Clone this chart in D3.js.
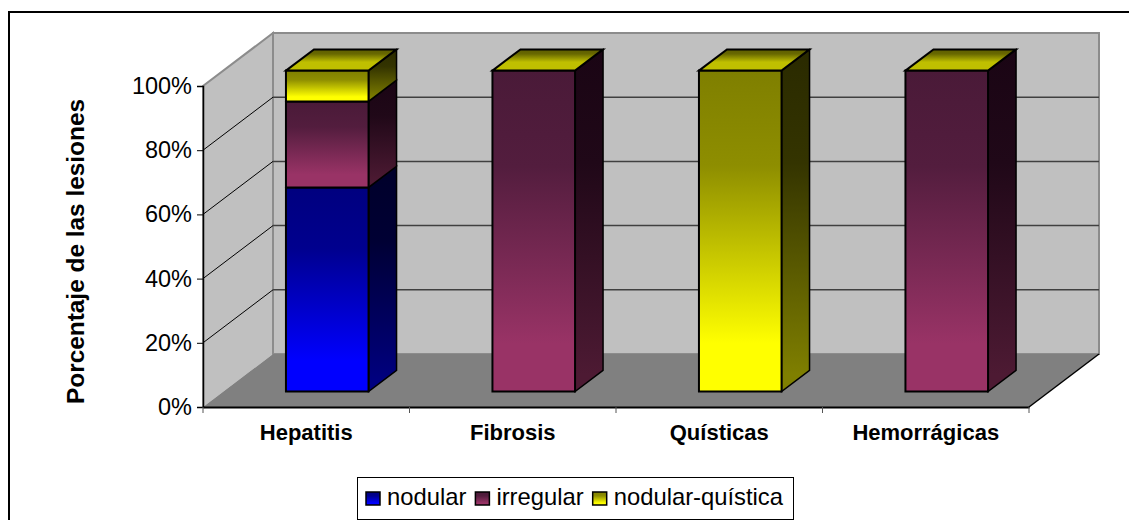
<!DOCTYPE html>
<html>
<head>
<meta charset="utf-8">
<script src="https://cdnjs.cloudflare.com/ajax/libs/d3/7.8.5/d3.min.js"></script>
<style>
    body { margin: 0; background: #fff; }
    svg { display: block; }
    text { font-family: "Liberation Sans", Arial, sans-serif; fill: #000; }
</style>
</head>
<body>
<div id="chart"></div>
<script>
var categories = ["Hepatitis", "Fibrosis", "Quísticas", "Hemorrágicas"];
var seriesNames = ["nodular", "irregular", "nodular-quística"];
var nodular = [63.6, 0, 0, 0];
var irregular = [26.8, 100, 0, 100];
var nodularQuistica = [9.6, 0, 100, 0];
var yTicks = [0, 20, 40, 60, 80, 100];
var yTitle = "Porcentaje de las lesiones";

var width = 1129, height = 520;
var depth = {x: 70, y: -53};
var colors = [
    {front: ["#00007f", "#0000ff"], side: ["#00002a", "#00007f"]},
    {front: ["#4a1a38", "#993366"], side: ["#1a0514", "#4d1a33"]},
    {front: ["#7f7f00", "#ffff00"], side: ["#2a2a00", "#7f7f00"]}
];

var svg = d3.select("#chart").append("svg")
    .attr("width", width)
    .attr("height", height);
var defs = svg.append("defs");

var x = d3.scaleBand().domain(categories).range([203, 1029]).paddingInner(0.6).paddingOuter(0.3);
var y = d3.scaleLinear().domain([0, 100]).range([407, 86]);

function pt(px, val, z) {
    return [px + z * depth.x, y(val) + z * depth.y];
}
function poly(points) {
    return d3.line()(points) + "Z";
}

// dark start stays flat for a while, then ramps up to the full colour
function gradient(id, c0, c1, stop) {
    var g = defs.append("linearGradient").attr("id", id)
        .attr("x1", 0).attr("y1", 0).attr("x2", 0).attr("y2", 1);
    g.append("stop").attr("offset", 0).attr("stop-color", c0);
    g.append("stop").attr("offset", stop * 0.35).attr("stop-color", d3.interpolateRgb(c0, c1)(0.12));
    g.append("stop").attr("offset", stop).attr("stop-color", c1);
}
colors.forEach(function(c, i) {
    gradient("front" + i, c.front[0], c.front[1], 0.85);
    gradient("side" + i, c.side[0], c.side[1], 0.95);
});
gradient("topface", "#5c5c00", "#bfbf00", 0.6);

// outer frame, open on the right and bottom
svg.append("path")
    .attr("d", d3.line()([[9, height], [9, 12], [width, 12]]))
    .attr("fill", "none").attr("stroke", "#000").attr("stroke-width", 2);

var x0 = x.range()[0], x1 = x.range()[1];
var floor = svg.append("g");

// walls and floor
floor.append("path")
    .attr("d", poly([pt(x0, 100, 1), pt(x1, 100, 1), pt(x1, 0, 1), pt(x0, 0, 1)]))
    .attr("fill", "#c0c0c0").attr("stroke", "#8c8c8c").attr("stroke-width", 2);
floor.append("path")
    .attr("d", poly([pt(x0, 100, 0), pt(x0, 100, 1), pt(x0, 0, 1), pt(x0, 0, 0)]))
    .attr("fill", "#c0c0c0");
floor.append("path")
    .attr("d", poly([pt(x0, 0, 0), pt(x0, 0, 1), pt(x1, 0, 1), pt(x1, 0, 0)]))
    .attr("fill", "#808080");
floor.append("path")
    .attr("d", d3.line()([pt(x0, 0, 0), pt(x0, 100, 0), pt(x0, 100, 1), pt(x0, 0, 1)]))
    .attr("fill", "none").attr("stroke", "#8c8c8c").attr("stroke-width", 2);

// gridlines
var grid = svg.append("g");
yTicks.filter(function(d) { return d > 0 && d < 100; }).forEach(function(d) {
    grid.append("path")
        .attr("d", d3.line()([pt(x0, d, 0), pt(x0, d, 1)]))
        .attr("fill", "none").attr("stroke", "#000");
    grid.append("path")
        .attr("d", d3.line()([pt(x0, d, 1), pt(x1, d, 1)]))
        .attr("fill", "none").attr("stroke", "#404040").attr("stroke-width", 1.5);
});

// axes
var yAxis = d3.axisLeft(y).tickValues(yTicks).tickSize(6).tickPadding(5)
    .tickFormat(function(d) { return d + "%"; });
var yG = svg.append("g").attr("transform", "translate(" + x0 + ",0)").call(yAxis);
yG.selectAll("text").style("font-size", "23.5px");
yG.selectAll(".domain").attr("stroke", "#000").attr("stroke-width", 1.5);

var xAxis = d3.axisBottom(x).tickSize(0).tickPadding(17);
var xG = svg.append("g").attr("transform", "translate(0," + y(0) + ")").call(xAxis);
xG.selectAll("text").style("font-size", "22px").style("font-weight", "bold");
xG.select(".domain").attr("stroke", "#000").attr("stroke-width", 2);
xG.selectAll(".sep").data(d3.range(categories.length + 1)).enter().append("line")
    .attr("class", "sep")
    .attr("x1", function(d) { return x0 + d * x.step(); })
    .attr("x2", function(d) { return x0 + d * x.step(); })
    .attr("y1", 0).attr("y2", 6)
    .attr("stroke", "#555");

svg.append("path")
    .attr("d", d3.line()([pt(x1, 0, 0), pt(x1, 0, 1)]))
    .attr("fill", "none").attr("stroke", "#000").attr("stroke-width", 1.5);

// stacked 3d bars
var rows = categories.map(function(c, i) {
    return {category: c, 0: nodular[i], 1: irregular[i], 2: nodularQuistica[i]};
});
var stack = d3.stack().keys([0, 1, 2])(rows);
var zFront = 0.3, zBack = 0.7;
var bars = svg.append("g").attr("transform", "translate(0,0.5)");

categories.forEach(function(c, i) {
    var l = x(c), r = l + x.bandwidth();
    stack.forEach(function(layer, s) {
        var v0 = layer[i][0], v1 = layer[i][1];
        if (v1 > v0) {
            bars.append("path")
                .attr("d", poly([pt(r, v1, zFront), pt(r, v1, zBack), pt(r, v0, zBack), pt(r, v0, zFront)]))
                .attr("fill", "url(#side" + s + ")")
                .attr("stroke", "#000").attr("stroke-width", 1.5);
            bars.append("path")
                .attr("d", poly([pt(l, v1, zFront), pt(r, v1, zFront), pt(r, v0, zFront), pt(l, v0, zFront)]))
                .attr("fill", "url(#front" + s + ")")
                .attr("stroke", "#000").attr("stroke-width", 2);
        }
    });
    // the top series has zero height on most bars but still caps them
    bars.append("path")
        .attr("d", poly([pt(l, 100, zFront), pt(l, 100, zBack), pt(r, 100, zBack), pt(r, 100, zFront)]))
        .attr("fill", "url(#topface)")
        .attr("stroke", "#000").attr("stroke-width", 2);
});

// y title
svg.append("text")
    .attr("transform", "translate(83.5,251.5) rotate(-90)")
    .attr("text-anchor", "middle")
    .style("font-size", "24.4px")
    .style("font-weight", "bold")
    .text(yTitle);

// legend
var legend = svg.append("g");
legend.append("rect")
    .attr("x", 357.5).attr("y", 477.5).attr("width", 436).attr("height", 42)
    .attr("fill", "#fff").attr("stroke", "#000");
var lx = 366;
seriesNames.forEach(function(name, i) {
    legend.append("rect")
        .attr("x", lx).attr("y", 492).attr("width", 14).attr("height", 13)
        .attr("fill", "url(#front" + i + ")")
        .attr("stroke", "#000").attr("stroke-width", 1.5);
    var t = legend.append("text")
        .attr("x", lx + 21).attr("y", 505)
        .style("font-size", "23.8px")
        .text(name);
    lx += 21 + t.node().getComputedTextLength() + 9;
});
</script>
</body>
</html>
